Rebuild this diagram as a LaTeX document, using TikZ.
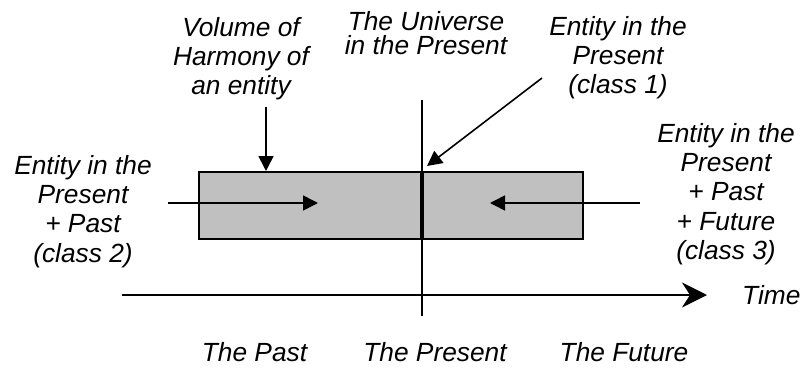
\documentclass[tikz,border=0pt]{standalone}
\usepackage{fontspec}
\setmainfont{Liberation Sans}
\usetikzlibrary{arrows.meta}
\definecolor{boxgray}{HTML}{C0C0C0}
\begin{document}
\begin{tikzpicture}[x=1pt,y=-1pt,
  lbl/.style={font=\fontsize{26.3}{29.3}\selectfont\itshape, align=center, inner sep=0pt, anchor=north},
  arr/.style={-{Triangle[length=15pt,width=15pt]}, line width=1.6pt},
]
\useasboundingbox (0,0) rectangle (800,367);
% box
\node[draw, line width=1.5pt, fill=boxgray, minimum width=384pt, minimum height=67pt,
      inner sep=0pt, anchor=north west] (box) at (198,171) {};
% present line
\coordinate (ptop) at (422,100);
\coordinate (pbot) at (422,316);
\draw[line width=1.1pt] (ptop) -- (pbot);
\draw[line width=4.5pt] (box.north -| ptop) -- (box.south -| ptop);
% time axis
\coordinate (t0) at (122,295);
\coordinate (t1) at (707,295);
\draw[line width=2.2pt, -{Stealth[length=25pt,width=25pt,inset=8pt]}] (t0) -- (t1);
% labels (top = first baseline - 19)
\node[lbl] (vol) at (241,17) {Volume of\\Harmony of\\an entity};
\node[lbl, font=\fontsize{26.3}{24.5}\selectfont\itshape] (univ) at (426,11) {The Universe\\in the Present};
\node[lbl] (c1) at (618,16) {Entity in the\\Present\\(class 1)};
\node[lbl] (c2) at (83,155) {Entity in the\\Present\\+ Past\\(class 2)};
\node[lbl] (c3) at (726,123) {Entity in the\\Present\\+ Past\\+ Future\\(class 3)};
\node[lbl, anchor=base west] (time) at (742,304) {Time};
\node[lbl, anchor=base] (past) at (254.5,361) {The Past};
\node[lbl, anchor=base] (pres) at (435,361) {The Present};
\node[lbl, anchor=base] (fut) at (624,361) {The Future};
% arrows
\coordinate (va) at (266,107);
\draw[arr] (va) -- (va |- box.north);
\coordinate (ca) at (542,78);
\coordinate (cb) at (427,166);
\draw[arr] (ca) -- (cb);
\coordinate (la) at (168,203);
\coordinate (lb) at (318,203);
\draw[arr] (la) -- (lb);
\coordinate (ra) at (640,203);
\coordinate (rb) at (490,203);
\draw[arr] (ra) -- (rb);
\end{tikzpicture}
\end{document}
